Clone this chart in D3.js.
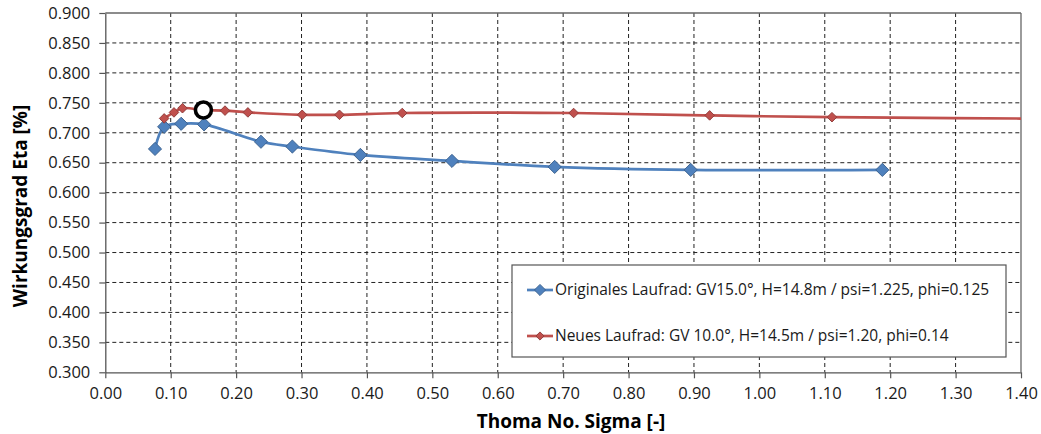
<!DOCTYPE html>
<html>
<head>
<meta charset="utf-8">
<script src="https://cdn.jsdelivr.net/npm/d3@7"></script>
<style>
  html, body { margin: 0; padding: 0; background: #fff; }
  svg { display: block; }
</style>
</head>
<body>
<svg id="chart" width="1041" height="434"></svg>
<script>
// ---- data ----
const xTicks = [0,0.1,0.2,0.3,0.4,0.5,0.6,0.7,0.8,0.9,1.0,1.1,1.2,1.3,1.4];
const yTicks = [0.30,0.35,0.40,0.45,0.50,0.55,0.60,0.65,0.70,0.75,0.80,0.85,0.90];

const origSigma = [0.076,0.090,0.116,0.151,0.238,0.286,0.390,0.530,0.687,0.895,1.188];
const origEta   = [0.673,0.710,0.715,0.714,0.685,0.677,0.663,0.653,0.643,0.638,0.638];

const newSigma = [0.090,0.105,0.118,0.150,0.183,0.218,0.301,0.358,0.454,0.716,0.924,1.111,1.52];
const newEta   = [0.724,0.734,0.741,0.738,0.737,0.734,0.730,0.730,0.733,0.733,0.729,0.726,0.723];

const markPoint = {sigma: 0.150, eta: 0.738};

const seriesNames = [
  "Originales Laufrad: GV15.0°, H=14.8m / psi=1.225, phi=0.125",
  "Neues Laufrad: GV 10.0°, H=14.5m / psi=1.20, phi=0.14"
];
const xTitle = "Thoma No. Sigma [-]";
const yTitle = "Wirkungsgrad Eta [%]";

// ---- layout ----
const svg = d3.select("#chart");
const L = 105.3, R = 1021, T = 13, B = 372.3;
const x = d3.scaleLinear().domain([0, 1.4]).range([L, R]);
const y = d3.scaleLinear().domain([0.3, 0.9]).range([B, T]);
const font = "'Open Sans', 'Liberation Sans', sans-serif";

svg.append("rect").attr("width", 1041).attr("height", 434).attr("fill", "#fff");

// gridlines
const grid = svg.append("g");
grid.selectAll("line.h").data(yTicks.slice(1, -1)).join("line")
  .attr("x1", L).attr("x2", R).attr("y1", d => y(d)).attr("y2", d => y(d))
  .attr("stroke", "#222").attr("stroke-width", 1).attr("stroke-dasharray", "4,3");
grid.selectAll("line.v").data(xTicks.slice(1, -1)).join("line")
  .attr("y1", T).attr("y2", B).attr("x1", d => x(d)).attr("x2", d => x(d))
  .attr("stroke", "#222").attr("stroke-width", 1).attr("stroke-dasharray", "4,3");

// axes
const xAxis = d3.axisBottom(x).tickValues(xTicks).tickFormat(d3.format(".2f"))
  .tickSizeInner(6).tickSizeOuter(0).tickPadding(9);
const yAxis = d3.axisLeft(y).tickValues(yTicks).tickFormat(d3.format(".3f"))
  .tickSizeInner(6).tickSizeOuter(0).tickPadding(9);

const gx = svg.append("g").attr("transform", `translate(0,${B})`).call(xAxis);
const gy = svg.append("g").attr("transform", `translate(${L},0)`).call(yAxis);
[gx, gy].forEach(g => {
  g.select(".domain").attr("stroke", "#555").attr("stroke-width", 1.3);
  g.selectAll(".tick line").attr("stroke", "#555").attr("stroke-width", 1.2);
  g.selectAll(".tick text").attr("font-family", font).attr("font-size", 16.5).attr("fill", "#1a1a1a");
});

// plot frame (top and right)
svg.append("line").attr("x1", L).attr("x2", R).attr("y1", T).attr("y2", T)
  .attr("stroke", "#666").attr("stroke-width", 1.3);
svg.append("line").attr("x1", R).attr("x2", R).attr("y1", T).attr("y2", B)
  .attr("stroke", "#666").attr("stroke-width", 1.3);

// clip
svg.append("clipPath").attr("id", "plotclip").append("rect")
  .attr("x", L).attr("y", T - 10).attr("width", R - L).attr("height", B - T + 20);

const plot = svg.append("g").attr("clip-path", "url(#plotclip)");
const line = d3.line().x(d => x(d[0])).y(d => y(d[1])).curve(d3.curveCatmullRom.alpha(0.5));

const series = [
  {name: seriesNames[0], xs: origSigma, ys: origEta, color: "#4F81BD", stroke: "#385D8A", size: 6.6},
  {name: seriesNames[1], xs: newSigma, ys: newEta, color: "#C0504D", stroke: "#8C3836", size: 4.8}
];

const diamond = s => `M0,${-s}L${s},0L0,${s}L${-s},0Z`;

series.forEach(s => {
  const pts = s.xs.map((v, i) => [v, s.ys[i]]);
  plot.append("path").datum(pts).attr("d", line)
    .attr("fill", "none").attr("stroke", s.color).attr("stroke-width", 2.7)
    .attr("stroke-linejoin", "round");
  plot.selectAll(null).data(pts).join("path")
    .attr("d", diamond(s.size))
    .attr("transform", d => `translate(${x(d[0])},${y(d[1])})`)
    .attr("fill", s.color).attr("stroke", s.stroke).attr("stroke-width", 0.9);
});

// highlighted point
svg.append("circle").attr("cx", x(markPoint.sigma)).attr("cy", y(markPoint.eta))
  .attr("r", 8).attr("fill", "#fff").attr("stroke", "#000").attr("stroke-width", 3.6);

// legend
const lg = svg.append("g");
lg.append("rect").attr("x", 512).attr("y", 265).attr("width", 494).attr("height", 92)
  .attr("fill", "#fff").attr("stroke", "#555").attr("stroke-width", 1.2);
const rowsY = [290, 336];
series.forEach((s, i) => {
  const g = lg.append("g").attr("transform", `translate(0,${rowsY[i]})`);
  g.append("line").attr("x1", 527).attr("x2", 553).attr("y1", 0).attr("y2", 0)
    .attr("stroke", s.color).attr("stroke-width", 2.7);
  g.append("path").attr("d", diamond(s.size * 0.85)).attr("transform", "translate(540,0)")
    .attr("fill", s.color).attr("stroke", s.stroke).attr("stroke-width", 0.9);
  g.append("text").attr("x", 555).attr("y", 0).attr("dy", "0.35em")
    .attr("font-family", font).attr("font-size", 15.5).attr("fill", "#1a1a1a")
    .text(s.name);
});

// axis titles
svg.append("text").attr("x", 571).attr("y", 428).attr("text-anchor", "middle")
  .attr("font-family", font).attr("font-weight", "bold").attr("font-size", 19).attr("fill", "#000")
  .text(xTitle);
svg.append("text").attr("transform", "translate(27,206) rotate(-90)").attr("text-anchor", "middle")
  .attr("font-family", font).attr("font-weight", "bold").attr("font-size", 19).attr("fill", "#000")
  .text(yTitle);
</script>
</body>
</html>
